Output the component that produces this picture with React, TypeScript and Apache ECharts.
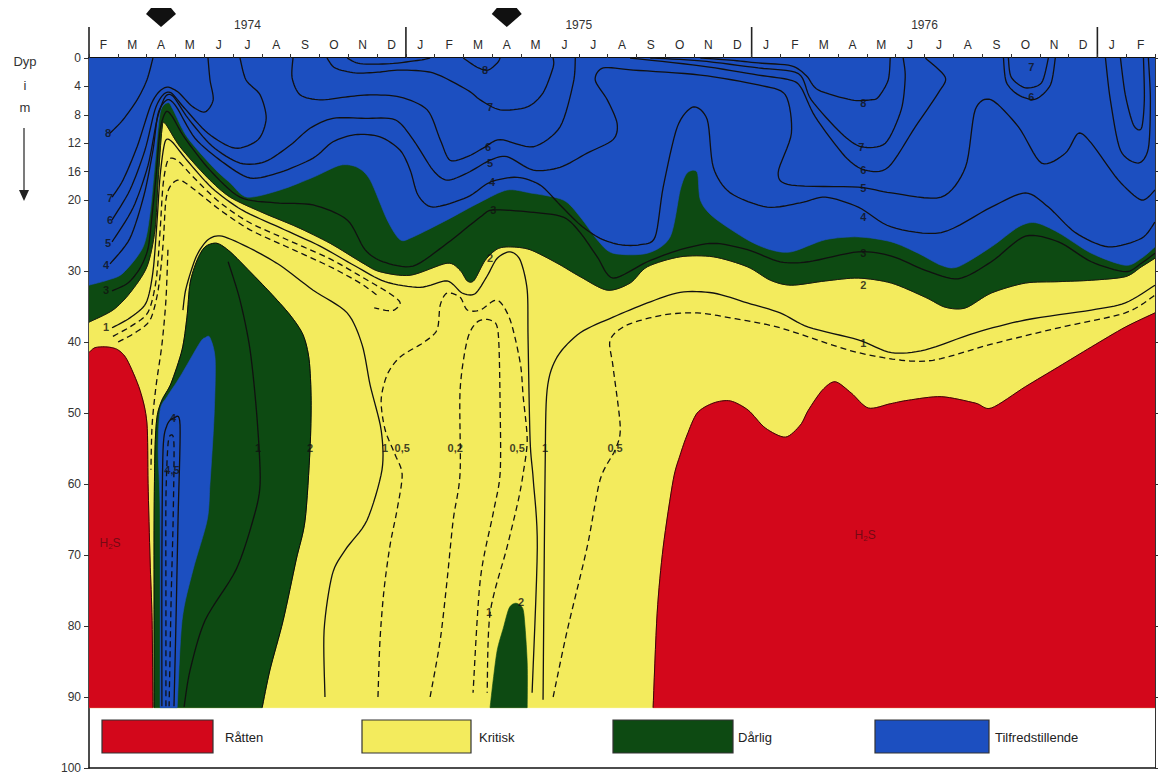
import { useEffect, useRef } from "react";
import * as echarts from "echarts";

// ---------- axes ----------
const MONTH_LABELS = ["F","M","A","M","J","J","A","S","O","N","D","J","F","M","A","M","J","J","A","S","O","N","D","J","F","M","A","M","J","J","A","S","O","N","D","J","F"];
const YEAR_LABELS = ["1974", "1975", "1976"];
const YEAR_CENTERS = [6.5, 18, 30];
const YEAR_BREAKS = [1, 12, 24, 36];
const SAMPLING_MONTHS = [3.5, 15.5];
const DEPTH_TICKS = [0, 4, 8, 12, 16, 20, 30, 40, 50, 60, 70, 80, 90, 100];
const X_START = 1;
const X_END = 38;
const DEPTH_END = 100;
const SECTION_BOTTOM = 91.5;

// ---------- region boundaries [month index (Jan 1974 = 0), depth m] ----------
const SECTION = [[X_START, 0], [X_END, 0], [X_END, SECTION_BOTTOM], [X_START, SECTION_BOTTOM]];
const BLUE_BOTTOM = [[1.0,32.0],[1.63,31.3],[2.18,30.3],[2.88,26.6],[3.12,21.8],[3.29,14.8],[3.47,7.7],[3.74,6.3],[3.92,7.3],[4.40,11.1],[5.31,15.4],[5.90,17.6],[6.49,19.6],[7.63,18.6],[8.78,16.8],[9.72,15.1],[10.31,15.4],[10.76,17.2],[11.35,22.8],[11.80,25.6],[12.25,25.2],[13.43,22.8],[14.58,20.3],[15.51,18.6],[16.31,19.0],[17.46,20.0],[18.05,22.4],[18.64,25.6],[19.19,27.5],[20.38,27.5],[21.17,25.2],[21.52,18.6],[21.76,16.2],[22.11,16.1],[22.22,20.0],[22.67,22.4],[23.85,25.6],[24.65,27.0],[25.38,27.3],[26.56,25.6],[27.70,25.2],[28.85,25.9],[29.78,27.5],[30.58,29.2],[31.17,29.4],[32.32,26.6],[33.26,23.8],[33.85,23.2],[34.65,24.6],[35.79,27.5],[36.97,29.2],[37.53,28.2],[38.0,26.6]];
const GREEN_BOTTOM = [[1.0,37.2],[1.83,35.5],[2.42,33.1],[3.01,29.4],[3.29,24.2],[3.40,17.2],[3.53,10.1],[3.64,9.2],[4.16,12.5],[5.10,16.8],[5.90,19.6],[7.04,21.8],[8.22,23.8],[9.37,26.1],[10.51,28.9],[11.10,30.1],[12.15,30.6],[13.43,28.9],[13.88,29.9],[14.13,31.4],[14.37,31.3],[14.75,28.5],[15.17,26.9],[15.62,26.6],[16.31,27.0],[17.25,28.9],[18.05,30.8],[18.99,32.7],[19.78,31.7],[20.38,29.4],[21.52,28.0],[22.67,28.0],[23.85,29.4],[24.65,31.3],[25.38,32.0],[26.56,31.4],[27.70,31.0],[28.85,31.7],[30.03,33.7],[30.72,35.1],[31.42,35.2],[32.32,33.1],[33.50,31.7],[34.65,31.5],[35.79,31.3],[36.97,30.8],[37.53,29.4],[38.0,28.2]];
const RED_WEST = [[1.0,41.5],[1.21,40.8],[1.63,40.7],[2.0,41.1],[2.32,42.5],[2.77,46.8],[3.01,51.4],[3.05,59.9],[3.12,70.7],[3.19,79.2],[3.22,91.5]];
const GREEN_TONGUE = [[3.26,91.5],[3.26,79.2],[3.26,65.1],[3.29,55.2],[3.36,50.6],[3.53,48.2],[3.85,45.8],[4.23,41.1],[4.40,36.5],[4.51,31.7],[4.75,28.5],[5.03,26.6],[5.44,26.1],[5.90,27.3],[6.59,30.1],[7.28,33.0],[7.98,36.2],[8.43,39.0],[8.64,42.5],[8.71,48.2],[8.67,55.2],[8.50,65.1],[8.19,70.7],[7.74,79.2],[7.28,86.2],[7.01,91.5]];
const BLUE_POCKET = [[3.47,91.5],[3.47,64.6],[3.40,55.2],[3.47,49.6],[3.71,47.7],[4.16,44.9],[4.85,40.1],[5.03,39.4],[5.20,39.4],[5.38,42.5],[5.34,50.6],[5.20,59.9],[5.10,65.1],[4.61,72.1],[4.23,79.2],[4.06,91.5]];
const RED_EAST = [[20.58,91.5],[20.72,78.2],[20.93,68.9],[21.28,59.4],[21.52,55.9],[21.76,53.1],[22.11,50.0],[22.67,48.6],[23.26,48.3],[23.88,49.6],[24.47,52.1],[25.17,53.4],[25.69,51.7],[25.97,49.6],[26.45,46.8],[26.90,45.6],[27.46,47.2],[28.05,49.3],[28.81,48.7],[29.44,48.2],[30.58,47.7],[31.76,48.6],[32.32,49.3],[33.50,46.3],[34.65,43.5],[35.79,40.7],[36.97,37.9],[38.0,35.9]];
const GREEN_SPIKE = [[14.92,91.5],[15.03,87.6],[15.17,83.4],[15.38,80.3],[15.58,77.5],[15.79,76.8],[16.0,77.2],[16.1,78.5],[16.21,85.2],[16.21,91.5]];

// ---------- isolines (ml O2 / l) ----------
const ISO8_A = [[1.73,10.6],[2.18,8.7],[2.67,5.9],[3.01,3.1],[3.22,0]];
const ISO7_A = [[1.80,19.6],[2.18,17.2],[2.67,12.5],[3.12,6.9],[3.40,4.9],[3.71,4.1],[4.09,4.8],[4.58,6.8],[5.03,7.6],[5.31,5.9],[5.20,3.1],[5.13,0]];
const ISO6_A = [[1.80,22.8],[2.42,18.6],[2.94,13.0],[3.29,7.3],[3.57,5.2],[3.85,4.9],[4.30,7.0],[5.13,10.6],[6.07,12.7],[6.87,11.5],[7.15,8.5],[6.94,5.2],[6.45,3.1],[6.24,0]];
const ISO6_B = [[8.08,0],[8.05,2.8],[8.33,5.2],[9.02,5.9],[9.89,5.5],[10.76,5.2],[11.80,5.5],[12.74,7.3],[13.19,11.5],[13.53,14.4],[14.13,13.9],[14.68,12.7],[15.27,11.5],[16.42,12.5],[17.35,9.7],[17.81,3.5],[17.88,0]];
const ISO7_B = [[9.26,0],[9.54,1.4],[10.24,2.1],[11.03,2.0],[11.80,1.7],[12.94,2.1],[14.13,4.5],[14.58,5.9],[15.27,7.3],[16.21,6.9],[16.76,4.9],[17.11,1.3],[17.11,0]];
const ISO8_B = [[13.99,0],[14.47,1.3],[14.85,1.7],[15.17,0.7],[15.27,0]];
const ISO8_C = [[9.96,0],[10.41,0.8],[11.45,0.8],[12.49,0.3],[12.84,0]];
const ISO5 = [[1.80,25.9],[2.53,21.1],[3.05,15.1],[3.36,8.7],[3.64,5.5],[3.92,5.4],[4.44,8.5],[5.27,12.4],[6.24,14.8],[7.11,14.6],[7.98,12.3],[8.67,9.9],[9.47,8.5],[10.58,8.5],[11.63,8.7],[12.25,11.5],[12.94,15.8],[13.43,17.2],[14.13,16.2],[14.92,14.4],[15.51,13.9],[16.42,15.8],[17.35,15.4],[18.29,13.4],[19.19,11.5],[19.33,9.2],[18.99,5.9],[18.57,3.1],[18.85,1.4],[19.89,1.7],[22.22,2.4],[24.23,3.8],[25.17,5.2],[25.38,10.6],[24.92,16.2],[25.38,17.9],[27.70,18.2],[28.85,19.0],[30.58,19.6],[31.42,15.4],[31.76,7.3],[32.32,5.9],[33.26,9.7],[34.06,14.8],[34.89,13.4],[35.34,10.6],[35.79,12.0],[36.73,17.2],[37.53,20.0],[38.0,18.6]];
const ISO4 = [[1.73,29.0],[2.42,25.4],[2.91,19.3],[3.22,13.0],[3.40,7.8],[3.71,5.9],[4.02,6.8],[4.68,11.3],[5.62,14.6],[6.59,16.9],[7.63,16.1],[8.78,14.1],[9.47,11.8],[10.24,10.8],[11.10,11.1],[11.80,13.0],[12.15,15.8],[12.42,19.3],[12.94,21.0],[14.13,19.6],[14.92,17.5],[15.86,16.8],[16.66,17.9],[17.35,20.7],[18.05,23.5],[18.74,25.4],[19.44,26.3],[20.13,26.3],[20.65,25.2],[20.93,18.2],[21.42,9.7],[21.97,6.9],[22.46,8.7],[22.67,15.4],[23.26,19.0],[24.54,21.0],[25.69,20.4],[26.56,19.6],[27.70,21.0],[28.85,23.8],[30.58,24.6],[32.32,21.0],[33.50,19.0],[34.30,21.0],[35.24,24.6],[36.38,26.6],[37.53,25.4],[38.0,23.1]];
const ISO3 = [[1.80,32.8],[2.35,31.7],[2.77,29.6],[3.05,26.8],[3.19,22.1],[3.33,16.5],[3.47,10.1],[3.67,7.6],[3.88,8.2],[4.33,11.3],[5.20,15.8],[6.24,19.6],[7.46,20.4],[8.78,20.7],[9.96,22.8],[10.58,27.0],[11.21,28.7],[12.25,29.3],[13.43,26.1],[14.58,22.4],[15.03,21.4],[16.31,21.7],[17.46,22.4],[18.05,24.6],[18.64,28.0],[19.19,31.0],[20.38,28.7],[21.52,27.0],[22.67,26.1],[23.85,27.0],[24.99,28.7],[25.97,28.7],[27.70,27.3],[28.85,27.9],[30.03,29.9],[31.17,31.1],[32.32,28.7],[33.50,25.1],[34.65,25.9],[35.79,28.7],[36.97,30.1],[37.53,28.9],[38.0,27.5]];
const ISO1_ARM = [[1.80,38.0],[2.42,36.6],[2.98,34.5],[3.22,30.1],[3.36,23.1],[3.47,16.5],[3.64,11.8],[3.88,11.8],[4.40,14.4],[5.27,18.3],[6.31,21.4],[7.63,23.9],[9.02,26.5],[10.24,29.3],[11.28,31.5],[12.49,32.3],[13.43,31.4],[13.95,33.1],[14.40,33.2],[14.82,30.7],[15.17,28.2],[15.62,27.3],[15.97,28.5],[16.21,32.7],[16.24,39.7],[16.31,53.8],[16.42,59.4],[16.56,68.9],[16.38,89.4]];
const ISO05_ARM_A = [[1.83,39.2],[2.49,37.7],[3.05,35.8],[3.33,31.3],[3.47,24.2],[3.57,17.9],[3.74,14.4],[4.06,14.4],[4.58,16.6],[5.44,20.0],[6.49,23.0],[7.88,25.6],[9.37,28.3],[10.58,31.1],[11.45,33.2],[11.80,34.5],[11.52,35.6],[10.90,35.2]];
const ISO05_ARM_B = [[2.01,40.0],[2.60,38.7],[3.12,36.9],[3.40,32.7],[3.57,26.3],[3.67,20.0],[3.85,17.9],[4.16,17.2],[4.68,18.6],[5.55,21.4],[6.59,24.2],[7.98,26.8],[9.37,29.4],[10.41,31.7],[11.03,33.5]];
const ISO05_FLANK = [[3.74,27.0],[3.67,34.1],[3.53,40.4],[3.33,46.1],[3.19,51.7],[3.15,58.0]];
const ISO1_WEST = [[4.26,35.5],[4.37,32.4],[4.72,28.0],[5.13,25.6],[5.62,25.1],[6.59,26.8],[7.63,29.2],[8.78,32.7],[9.96,35.9],[10.48,40.4],[10.76,46.1],[11.14,52.4],[11.17,58.0],[10.65,65.1],[9.89,69.3],[9.44,72.8],[9.16,80.6],[9.19,90.0]];
const ISO1_TONGUE = [[5.83,28.7],[6.24,34.1],[6.59,41.1],[6.83,50.6],[6.94,59.9],[6.69,65.1],[6.10,72.1],[5.03,79.2],[4.51,86.2],[4.30,91.4]];
const ISO05_DOME = [[11.03,90.0],[11.10,82.0],[11.24,74.9],[11.45,68.6],[11.69,63.7],[11.87,58.7],[11.63,55.9],[11.28,52.4],[11.14,48.2],[11.35,44.6],[11.80,42.1],[12.60,40.1],[13.08,38.3],[13.19,34.8],[13.43,33.1],[13.88,33.7],[14.13,35.5],[14.58,35.5],[15.17,34.1],[15.62,36.9],[15.97,43.0],[16.07,47.7],[16.21,53.8],[16.07,58.5],[15.90,62.3],[15.51,68.9],[14.92,78.2],[14.82,89.4]];
const ISO02_DOME = [[12.84,90.0],[13.19,82.0],[13.43,73.5],[13.64,65.1],[13.88,58.5],[13.88,46.8],[14.13,39.7],[14.47,37.2],[14.92,36.9],[15.20,38.6],[15.27,49.2],[15.27,58.5],[15.03,64.1],[14.58,73.5],[14.33,89.4]];
const ISO1_EAST = [[16.76,90.4],[16.83,58.5],[16.90,46.8],[17.25,42.1],[18.05,38.7],[19.19,36.5],[20.38,34.5],[21.52,33.0],[22.67,33.1],[23.85,34.5],[24.99,35.9],[25.97,37.9],[27.70,39.7],[28.85,41.5],[30.03,41.1],[31.76,38.7],[33.50,36.9],[35.79,35.5],[36.97,34.5],[38.0,32.0]];
const ISO05_EAST = [[17.11,90.0],[17.60,80.6],[18.29,68.9],[18.74,59.4],[19.26,55.2],[19.44,52.0],[19.19,43.5],[19.09,39.7],[19.68,37.6],[20.93,36.2],[22.11,35.9],[23.26,36.6],[24.99,38.0],[27.70,41.5],[30.03,42.7],[32.32,40.3],[34.65,38.0],[36.97,35.9],[38.0,33.4]];
const POCKET_SOLID = [[3.53,91.3],[3.53,70.7],[3.57,55.2],[3.71,51.7],[3.95,50.7],[4.16,51.7],[4.09,65.1],[4.02,79.2],[3.95,91.3]];
const POCKET_DASH = [[3.67,91.3],[3.67,76.3],[3.67,62.3],[3.74,54.5],[3.85,53.1],[3.95,54.5],[3.92,65.1],[3.85,76.3],[3.78,91.3]];
const ISO8_76 = [[22.22,0],[23.26,0.3],[24.23,0.7],[25.38,1.1],[25.90,2.5],[26.31,4.5],[27.46,5.9],[28.12,5.9],[28.40,5.5],[28.74,3.1],[28.81,0]];
const ISO7_76 = [[20.48,0],[22.22,0.4],[24.23,1.4],[25.62,2.2],[26.07,5.9],[27.11,10.6],[27.81,12.5],[28.64,12.0],[29.19,7.3],[29.33,2.7],[29.26,0]];
const ISO6_76 = [[19.78,0],[22.22,1.1],[24.23,2.4],[25.34,3.1],[25.72,4.2],[26.21,8.3],[27.25,13.9],[27.94,15.8],[28.74,15.4],[29.68,9.7],[30.48,4.9],[30.72,2.7],[30.03,0]];
const ISO7_AUT76 = [[32.91,0],[33.01,2.7],[33.50,4.2],[34.06,3.5],[34.30,0]];
const ISO6_AUT76 = [[32.74,0],[32.84,3.4],[33.26,5.2],[33.85,5.8],[34.37,3.8],[34.54,0]];
const ISO_EDGE_A = [[36.28,0],[36.45,5.9],[36.80,13.0],[37.42,14.8],[37.77,12.7],[37.84,5.9],[37.77,0]];
const ISO_EDGE_B = [[36.80,0],[36.97,5.2],[37.25,9.4],[37.53,9.9],[37.63,5.9],[37.60,0]];

const CONTOUR_LABELS: [number, number, string][] = [
  [1.66,10.6,"8"],[1.73,19.7,"7"],[1.73,22.8,"6"],[1.66,26.1,"5"],[1.59,29.2,"4"],[1.59,32.7,"3"],[1.59,37.9,"1"],
  [14.75,1.7,"8"],[14.92,6.9,"7"],[14.85,12.5,"6"],[14.92,14.8,"5"],[14.99,17.5,"4"],[15.03,21.4,"3"],[14.92,28.2,"2"],
  [27.88,6.3,"8"],[27.81,12.5,"7"],[27.88,15.8,"6"],[27.88,18.3,"5"],[27.88,22.4,"4"],[27.88,27.5,"3"],[27.88,32.0,"2"],[27.88,40.1,"1"],
  [33.71,1.3,"7"],[33.71,5.5,"6"],
  [6.87,54.9,"1"],[8.67,54.9,"2"],[11.28,54.9,"1"],[11.87,54.9,"0,5"],[13.71,54.9,"0,2"],[15.86,54.9,"0,5"],[16.83,54.9,"1"],[19.26,54.9,"0,5"],
  [14.89,78.0,"1"],[16.0,76.6,"2"],[3.92,50.7,"4"],[3.88,58.0,"4,5"],
];
const H2S_LABELS = [[1.73, 68.3], [27.94, 67.2]];

const LEGEND_NAMES = ["Råtten", "Kritisk", "Dårlig", "Tilfredstillende"];

const RED = "#d3071b";
const YELLOW = "#f3eb5d";
const GREEN = "#0d4a12";
const BLUE = "#1c4fc0";
const INK = "#111111";
const FONT = "'Liberation Sans', Arial, sans-serif";

function hermite(pts: number[][], steps = 8, k = 0.42): number[][] {
  if (pts.length < 3) return pts;
  const out: number[][] = [];
  const n = pts.length;
  for (let i = 0; i < n - 1; i++) {
    const p0 = pts[i === 0 ? 0 : i - 1];
    const p1 = pts[i];
    const p2 = pts[i + 1];
    const p3 = pts[i + 2 < n ? i + 2 : n - 1];
    const m1 = [k * (p2[0] - p0[0]), k * (p2[1] - p0[1])];
    const m2 = [k * (p3[0] - p1[0]), k * (p3[1] - p1[1])];
    for (let s = 0; s < steps; s++) {
      const t = s / steps, t2 = t * t, t3 = t2 * t;
      const h00 = 2 * t3 - 3 * t2 + 1, h10 = t3 - 2 * t2 + t, h01 = -2 * t3 + 3 * t2, h11 = t3 - t2;
      out.push([
        h00 * p1[0] + h10 * m1[0] + h01 * p2[0] + h11 * m2[0],
        h00 * p1[1] + h10 * m1[1] + h01 * p2[1] + h11 * m2[1],
      ]);
    }
  }
  out.push(pts[n - 1]);
  return out;
}

type RegionSpec = { id: string; curve: number[][]; close: number[][]; fill: string; stroke?: string; smooth: boolean };

const REGIONS: RegionSpec[] = [
  { id: "kritisk", curve: SECTION, close: [], fill: YELLOW, smooth: false },
  { id: "darlig-band", curve: GREEN_BOTTOM, close: [[X_END, 0], [X_START, 0]], fill: GREEN, stroke: "#1a1a10", smooth: true },
  { id: "tilfreds", curve: BLUE_BOTTOM, close: [[X_END, 0], [X_START, 0]], fill: BLUE, smooth: true },
  { id: "ratten-west", curve: RED_WEST, close: [[X_START, SECTION_BOTTOM]], fill: RED, stroke: "#3a0606", smooth: true },
  { id: "darlig-tongue", curve: GREEN_TONGUE, close: [], fill: GREEN, stroke: "#0a0a0a", smooth: true },
  { id: "tilfreds-pocket", curve: BLUE_POCKET, close: [], fill: BLUE, smooth: true },
  { id: "ratten-east", curve: RED_EAST, close: [[X_END, SECTION_BOTTOM]], fill: RED, stroke: "#3a0606", smooth: true },
  { id: "darlig-spike", curve: GREEN_SPIKE, close: [], fill: GREEN, smooth: true },
];

const CONTOURS: { pts: number[][]; dashed: boolean }[] = [
  { pts: ISO8_A, dashed: false }, { pts: ISO7_A, dashed: false }, { pts: ISO6_A, dashed: false },
  { pts: ISO6_B, dashed: false }, { pts: ISO7_B, dashed: false }, { pts: ISO8_B, dashed: false },
  { pts: ISO8_C, dashed: false }, { pts: ISO5, dashed: false }, { pts: ISO4, dashed: false },
  { pts: ISO3, dashed: false }, { pts: ISO1_ARM, dashed: false }, { pts: ISO05_ARM_A, dashed: true },
  { pts: ISO05_ARM_B, dashed: true }, { pts: ISO05_FLANK, dashed: true }, { pts: ISO1_WEST, dashed: false },
  { pts: ISO1_TONGUE, dashed: false }, { pts: ISO05_DOME, dashed: true }, { pts: ISO02_DOME, dashed: true },
  { pts: ISO1_EAST, dashed: false }, { pts: ISO05_EAST, dashed: true }, { pts: POCKET_SOLID, dashed: false },
  { pts: POCKET_DASH, dashed: true }, { pts: ISO8_76, dashed: false }, { pts: ISO7_76, dashed: false },
  { pts: ISO6_76, dashed: false }, { pts: ISO7_AUT76, dashed: false }, { pts: ISO6_AUT76, dashed: false },
  { pts: ISO_EDGE_A, dashed: false }, { pts: ISO_EDGE_B, dashed: false },
];

function buildOption(): any {
  const regionSeries = REGIONS.map((r, i) => ({
    type: "custom",
    id: r.id,
    xAxisIndex: 0,
    yAxisIndex: 0,
    z: 2 + i * 0.01,
    silent: true,
    clip: true,
    data: [[r.curve[0][0], r.curve[0][1]]],
    renderItem: (_p: any, api: any) => {
      const curvePx = r.curve.map((p) => api.coord(p));
      const edge = r.smooth ? hermite(curvePx) : curvePx;
      const closePx = r.close.map((p) => api.coord(p));
      const children: any[] = [
        { type: "polygon", shape: { points: edge.concat(closePx) }, style: { fill: r.fill, stroke: r.fill, lineWidth: 0.6 } },
      ];
      if (r.stroke) {
        children.push({ type: "polyline", shape: { points: edge }, style: { stroke: r.stroke, lineWidth: 1, fill: "none" } });
      }
      return { type: "group", children };
    },
  }));

  const contourSeries = CONTOURS.map((c, i) => ({
    type: "custom",
    id: "iso" + i,
    xAxisIndex: 0,
    yAxisIndex: 0,
    z: 10,
    silent: true,
    clip: true,
    data: [[c.pts[0][0], c.pts[0][1]]],
    renderItem: (_p: any, api: any) => ({
      type: "polyline",
      shape: { points: hermite(c.pts.map((p) => api.coord(p))) },
      style: { stroke: INK, lineWidth: 1.3, fill: "none", lineDash: c.dashed ? [6, 4] : null },
    }),
  }));

  return {
    animation: false,
    backgroundColor: "#ffffff",
    textStyle: { fontFamily: FONT },
    grid: { left: 89, right: 3, top: 58, bottom: 11, containLabel: false },
    xAxis: [
      {
        type: "value", min: X_START, max: X_END, position: "bottom",
        axisLine: { show: true, onZero: false, lineStyle: { color: INK, width: 1.5 } },
        axisTick: { show: false }, axisLabel: { show: false }, splitLine: { show: false },
      },
      {
        type: "category", data: MONTH_LABELS, position: "top", boundaryGap: true,
        axisLine: { show: true, lineStyle: { color: INK, width: 2 } },
        axisTick: { show: true, interval: 0, length: 4, lineStyle: { color: "#333", width: 1 } },
        axisLabel: { interval: 0, fontSize: 12, color: "#2a2a2a", margin: 7, fontFamily: FONT },
        splitLine: { show: false },
      },
    ],
    yAxis: [
      {
        type: "value", inverse: true, min: 0, max: DEPTH_END, position: "left",
        axisLine: { show: true, onZero: false, lineStyle: { color: INK, width: 1.5 } },
        axisTick: { show: true, customValues: DEPTH_TICKS, length: 5, lineStyle: { color: "#333" } },
        axisLabel: { customValues: DEPTH_TICKS, fontSize: 12, color: "#333", margin: 8, fontFamily: FONT },
        splitLine: { show: false },
      },
      {
        type: "value", inverse: true, min: 0, max: DEPTH_END, position: "right",
        axisLine: { show: true, onZero: false, lineStyle: { color: "#333", width: 1 } },
        axisTick: { show: true, customValues: DEPTH_TICKS, length: 4, lineStyle: { color: "#333" } },
        axisLabel: { show: false }, splitLine: { show: false },
      },
    ],
    series: [
      ...regionSeries,
      ...contourSeries,
      {
        type: "scatter", id: "iso-labels", xAxisIndex: 0, yAxisIndex: 0, z: 12, silent: true,
        symbolSize: 1, itemStyle: { color: "rgba(0,0,0,0)" },
        data: CONTOUR_LABELS.map((l) => ({ value: [l[0], l[1]], name: l[2] })),
        label: { show: true, position: "inside", formatter: "{b}", fontSize: 11, fontWeight: "bold", color: INK, fontFamily: FONT },
      },
      {
        type: "scatter", id: "h2s", xAxisIndex: 0, yAxisIndex: 0, z: 12, silent: true,
        symbolSize: 1, itemStyle: { color: "rgba(0,0,0,0)" },
        data: H2S_LABELS.map((p) => ({ value: p })),
        label: {
          show: true, position: "inside", formatter: "{a|H}{b|2}{a|S}",
          rich: {
            a: { fontSize: 12, color: "#5c0a12", fontFamily: FONT },
            b: { fontSize: 8, color: "#5c0a12", fontFamily: FONT, padding: [7, 0, 0, 0] },
          },
        },
      },
    ],
  };
}

export default function App() {
  const ref = useRef<HTMLDivElement>(null);
  useEffect(() => {
    const el = ref.current;
    if (!el) return;
    const chart = echarts.init(el, null, { renderer: "svg" });
    chart.setOption(buildOption());
    const toPx = (x: number, d: number) => chart.convertToPixel({ seriesIndex: 0 }, [x, d]) as number[];
    const top = toPx(X_START, 0)[1];
    const graphics: any[] = [];
    YEAR_BREAKS.forEach((x) => {
      const px = toPx(x, 0)[0];
      graphics.push({ type: "line", shape: { x1: px, y1: 27, x2: px, y2: top }, style: { stroke: "#222", lineWidth: 1.6 } });
    });
    YEAR_LABELS.forEach((t, i) => {
      graphics.push({
        type: "text", x: toPx(YEAR_CENTERS[i], 0)[0], y: 25,
        style: { text: t, fontSize: 12, fill: "#333", align: "center", verticalAlign: "middle", fontFamily: FONT },
      });
    });
    SAMPLING_MONTHS.forEach((x) => {
      const cx = toPx(x, 0)[0];
      graphics.push({
        type: "polygon",
        shape: { points: [[cx - 10, 8], [cx + 10, 8], [cx + 15, 14], [cx, 27], [cx - 15, 14]] },
        style: { fill: "#111" },
      });
    });
    // depth caption
    [["Dyp", 61], ["i", 85], ["m", 107]].forEach(([t, y]) => {
      graphics.push({
        type: "text", x: 25, y: y as number,
        style: { text: t as string, fontSize: 13, fill: "#333", align: "center", verticalAlign: "middle", fontFamily: FONT },
      });
    });
    graphics.push({ type: "line", shape: { x1: 24, y1: 128, x2: 24, y2: 194 }, style: { stroke: "#333", lineWidth: 1.3 } });
    graphics.push({ type: "polygon", shape: { points: [[19, 190], [29, 190], [24, 201]] }, style: { fill: "#222" } });
    // legend
    const legendBoxes = [
      { x: 102, w: 111, tx: 225 },
      { x: 362, w: 109, tx: 479 },
      { x: 613, w: 120, tx: 738 },
      { x: 875, w: 114, tx: 995 },
    ];
    const legendColors = [RED, YELLOW, GREEN, BLUE];
    legendBoxes.forEach((b, i) => {
      graphics.push({
        type: "rect", shape: { x: b.x, y: 720, width: b.w, height: 33 },
        style: { fill: legendColors[i], stroke: "#333", lineWidth: 1.2 },
      });
      graphics.push({
        type: "text", x: b.tx, y: 737,
        style: { text: LEGEND_NAMES[i], fontSize: 13, fill: "#222", align: "left", verticalAlign: "middle", fontFamily: FONT },
      });
    });
    chart.setOption({ graphic: graphics });
    return () => chart.dispose();
  }, []);
  return (
    <div
      ref={ref}
      style={{ position: "fixed", left: 0, top: 0, width: 1158, height: 779, background: "#fff" }}
    />
  );
}
